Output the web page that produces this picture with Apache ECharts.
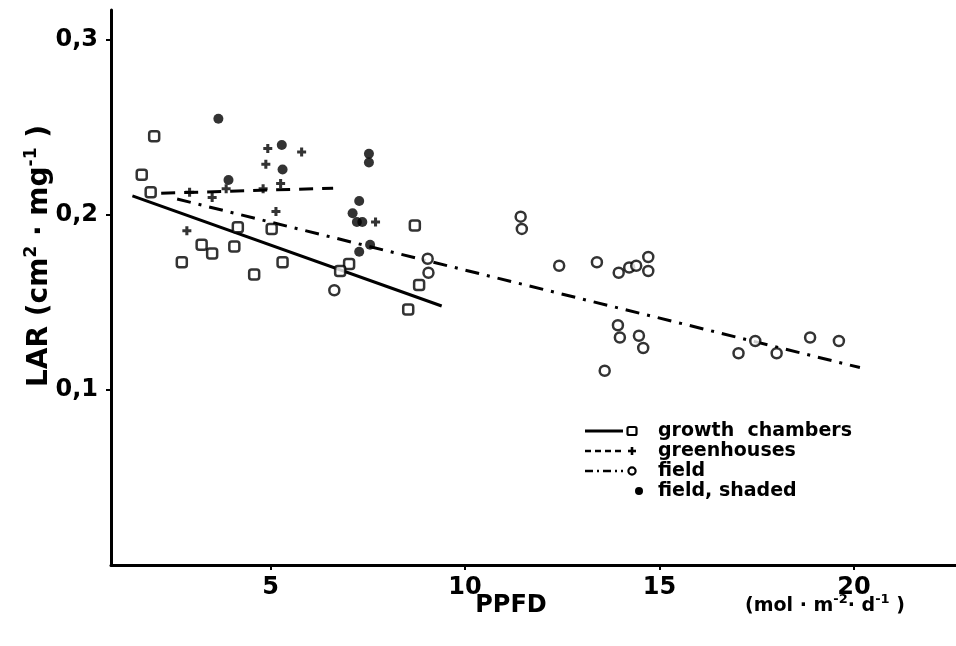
<!DOCTYPE html>
<html>
<head>
<meta charset="utf-8">
<script src="https://cdn.jsdelivr.net/npm/echarts@6/dist/echarts.min.js"></script>
<style>
  html, body { margin: 0; padding: 0; background: #fff; }
  #chart { width: 956px; height: 646px; }
</style>
</head>
<body>
<div id="chart"></div>
<script>
// Leaf area ratio (LAR) against daily photon flux (PPFD), four growing conditions.

// growth chambers (open squares)
const chamberPPFD = [2.01, 1.69, 1.92, 4.16, 5.03, 3.23, 3.50, 4.07, 2.72, 5.31, 4.58, 7.02, 6.79, 8.71, 8.82, 8.54];
const chamberLAR  = [0.245, 0.223, 0.213, 0.193, 0.192, 0.183, 0.178, 0.182, 0.173, 0.173, 0.166, 0.172, 0.168, 0.194, 0.160, 0.146];

// greenhouses (plus signs)
const greenhousePPFD = [4.93, 5.80, 4.88, 3.86, 2.92, 4.81, 5.26, 3.50, 5.14, 7.70, 2.85];
const greenhouseLAR  = [0.238, 0.236, 0.229, 0.215, 0.213, 0.215, 0.218, 0.210, 0.202, 0.196, 0.191];

// field (open circles)
const fieldPPFD = [6.64, 9.04, 9.06, 11.43, 11.46, 12.42, 13.39, 13.95, 14.22, 14.40, 14.71, 14.71,
                   13.93, 13.98, 14.47, 14.58, 13.59, 17.03, 17.46, 18.01, 18.87, 19.61];
const fieldLAR  = [0.157, 0.175, 0.167, 0.199, 0.192, 0.171, 0.173, 0.167, 0.170, 0.171, 0.176, 0.168,
                   0.137, 0.130, 0.131, 0.124, 0.111, 0.121, 0.128, 0.121, 0.130, 0.128];

// field, shaded (filled circles)
const shadedPPFD = [3.66, 5.29, 5.31, 3.92, 7.53, 7.53, 7.28, 7.11, 7.22, 7.36, 7.56, 7.28];
const shadedLAR  = [0.255, 0.240, 0.226, 0.220, 0.235, 0.230, 0.208, 0.201, 0.196, 0.196, 0.183, 0.179];

// regression lines (end points)
const chamberFitPPFD    = [1.45, 9.40];
const chamberFitLAR     = [0.2109, 0.1480];
const greenhouseFitPPFD = [2.19, 6.61];
const greenhouseFitLAR  = [0.2124, 0.2153];
const fieldFitPPFD      = [2.60, 20.15];
const fieldFitLAR       = [0.2091, 0.1128];

// axis ticks
const xTicks = [5, 10, 15, 20];
const yTicks = [0.1, 0.2, 0.3];
const yTickLabels = ['0,1', '0,2', '0,3'];

const FONT = '"DejaVu Sans", "Liberation Sans", sans-serif';
const INK = '#000';

const pairs = (xs, ys) => xs.map((x, i) => [x, ys[i]]);
const plusPath = 'path://M3.3,0 H6.7 V3.3 H10 V6.7 H6.7 V10 H3.3 V6.7 H0 V3.3 H3.3 Z';

const chart = echarts.init(document.getElementById('chart'), null, { renderer: 'canvas' });

const fitLine = (name, xs, ys, type) => ({
  name, type: 'line', data: pairs(xs, ys), showSymbol: false, symbol: 'none',
  silent: true, z: 1,
  lineStyle: { color: INK, width: 3, type, cap: 'butt' }
});

// legend rows drawn as graphic elements
const legRows = [431, 451, 471, 491];
const legLineX0 = 585, legLineX1 = 623, legMarkX = 632, legTextX = 658;
const legFont = 'bold 19px ' + FONT;
const legendGraphics = [
  { type: 'line', shape: { x1: legLineX0, y1: legRows[0], x2: legLineX1, y2: legRows[0] }, style: { stroke: INK, lineWidth: 3 } },
  { type: 'rect', shape: { x: legMarkX - 4.5, y: legRows[0] - 4, width: 9, height: 8, r: 1.5 }, style: { fill: '#fff', stroke: INK, lineWidth: 2.2 } },
  { type: 'text', x: legTextX, y: legRows[0], style: { text: 'growth  chambers', font: legFont, fill: INK, verticalAlign: 'middle' } },

  { type: 'line', shape: { x1: legLineX0, y1: legRows[1], x2: legLineX1, y2: legRows[1] }, style: { stroke: INK, lineWidth: 2.6, lineDash: [6, 4] } },
  { type: 'rect', shape: { x: legMarkX - 4, y: legRows[1] - 1.3, width: 8, height: 2.6 }, style: { fill: INK } },
  { type: 'rect', shape: { x: legMarkX - 1.3, y: legRows[1] - 4, width: 2.6, height: 8 }, style: { fill: INK } },
  { type: 'text', x: legTextX, y: legRows[1], style: { text: 'greenhouses', font: legFont, fill: INK, verticalAlign: 'middle' } },

  { type: 'line', shape: { x1: legLineX0, y1: legRows[2], x2: legLineX1, y2: legRows[2] }, style: { stroke: INK, lineWidth: 2.6, lineDash: [8, 4, 2, 4] } },
  { type: 'circle', shape: { cx: legMarkX, cy: legRows[2], r: 3.6 }, style: { fill: '#fff', stroke: INK, lineWidth: 2.2 } },
  { type: 'text', x: legTextX, y: legRows[2], style: { text: 'field', font: legFont, fill: INK, verticalAlign: 'middle' } },

  { type: 'circle', shape: { cx: legMarkX + 7, cy: legRows[3], r: 4 }, style: { fill: INK } },
  { type: 'text', x: legTextX, y: legRows[3], style: { text: 'field, shaded', font: legFont, fill: INK, verticalAlign: 'middle' } }
];

// axis titles with superscripts
const titleRich = (big, small) => ({
  b: { fontFamily: FONT, fontWeight: 'bold', fontSize: big, lineHeight: big + 6, color: INK },
  s: { fontFamily: FONT, fontWeight: 'bold', fontSize: small, lineHeight: small + 2, verticalAlign: 'top', color: INK }
});

const titleGraphics = [
  {
    type: 'text', x: 40, y: 256, rotation: Math.PI / 2,
    style: {
      text: '{b|LAR (cm}{s|2}{b| · mg}{s|-1}{b| )}',
      rich: titleRich(28, 17), align: 'center', verticalAlign: 'middle'
    }
  },
  {
    type: 'text', x: 511, y: 606,
    style: { text: 'PPFD', font: 'bold 24px ' + FONT, fill: INK, align: 'center', verticalAlign: 'middle' }
  },
  {
    type: 'text', x: 825, y: 606,
    style: {
      text: '{b|(mol · m}{s|-2}{b|· d}{s|-1}{b| )}',
      rich: titleRich(19, 13), align: 'center', verticalAlign: 'middle'
    }
  }
];

const option = {
  animation: false,
  backgroundColor: '#fff',
  grid: { left: 111, right: 0, top: 10, bottom: 81, containLabel: false },
  xAxis: {
    type: 'value', min: 0.9, max: 22.62,
    axisLine: { onZero: false, lineStyle: { color: INK, width: 3 } },
    axisTick: { show: true, length: 5, customValues: xTicks, lineStyle: { color: INK, width: 2 } },
    axisLabel: { customValues: xTicks, color: INK, fontFamily: FONT, fontWeight: 'bold', fontSize: 24, margin: 11 },
    splitLine: { show: false }
  },
  yAxis: {
    type: 'value', min: 0, max: 0.3171,
    axisLine: { onZero: false, lineStyle: { color: INK, width: 3 } },
    axisTick: { show: true, length: 5, customValues: yTicks, lineStyle: { color: INK, width: 2 } },
    axisLabel: {
      customValues: yTicks, color: INK, fontFamily: FONT, fontWeight: 'bold', fontSize: 24, margin: 13,
      formatter: v => yTickLabels[yTicks.findIndex(t => Math.abs(t - v) < 1e-6)] || ''
    },
    splitLine: { show: false }
  },
  series: [
    fitLine('growth chambers fit', chamberFitPPFD, chamberFitLAR, 'solid'),
    fitLine('greenhouses fit', greenhouseFitPPFD, greenhouseFitLAR, [14, 9]),
    fitLine('field fit', fieldFitPPFD, fieldFitLAR, [14, 8, 3, 8]),
    {
      name: 'growth chambers', type: 'scatter', data: pairs(chamberPPFD, chamberLAR), z: 3,
      symbol: 'roundRect', symbolSize: 10,
      itemStyle: { color: '#fff', borderColor: INK, borderWidth: 2.5 }
    },
    {
      name: 'greenhouses', type: 'scatter', data: pairs(greenhousePPFD, greenhouseLAR), z: 3,
      symbol: plusPath, symbolSize: 9,
      itemStyle: { color: INK }
    },
    {
      name: 'field', type: 'scatter', data: pairs(fieldPPFD, fieldLAR), z: 3,
      symbol: 'circle', symbolSize: 10,
      itemStyle: { color: '#fff', borderColor: INK, borderWidth: 2.5 }
    },
    {
      name: 'field, shaded', type: 'scatter', data: pairs(shadedPPFD, shadedLAR), z: 3,
      symbol: 'circle', symbolSize: 10,
      itemStyle: { color: INK }
    }
  ],
  graphic: legendGraphics.concat(titleGraphics)
};

chart.setOption(option);
</script>
</body>
</html>
